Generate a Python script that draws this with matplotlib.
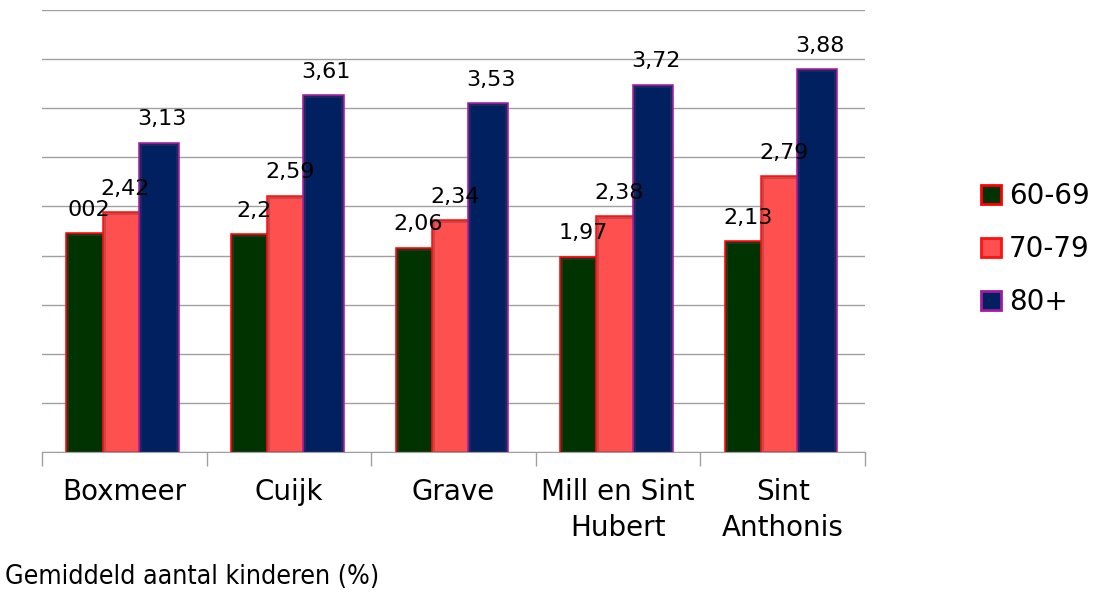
import matplotlib
matplotlib.use("Agg")
import matplotlib.pyplot as plt
import matplotlib.patheffects as pe
from matplotlib.patches import Patch
import numpy as np

categories = ["Boxmeer", "Cuijk", "Grave", "Mill en Sint\nHubert", "Sint\nAnthonis"]
series_names = ["60-69", "70-79", "80+"]
v_60_69 = [2.21, 2.20, 2.06, 1.97, 2.13]
v_70_79 = [2.42, 2.59, 2.34, 2.38, 2.79]
v_80 = [3.13, 3.61, 3.53, 3.72, 3.88]
labels_60_69 = ["002", "2,2", "2,06", "1,97", "2,13"]
labels_70_79 = ["2,42", "2,59", "2,34", "2,38", "2,79"]
labels_80 = ["3,13", "3,61", "3,53", "3,72", "3,88"]
footer = "Gemiddeld aantal kinderen (%)"

fills = ["#003300", "#ff5050", "#002060"]
inner = ["#1c3a1c", "#c84848", "#1a2a60"]
outer = ["#ff0000", "#ff1010", "#a01aa0"]

fig = plt.figure(figsize=(10.95, 6.01), dpi=100)
ax = fig.add_axes([42/1095, 1-452/601, (865-42)/1095, (452-10)/601])

x = np.arange(len(categories))
w = 0.22
data = [v_60_69, v_70_79, v_80]
labs = [labels_60_69, labels_70_79, labels_80]
for i, (vals, lab) in enumerate(zip(data, labs)):
    pos = x + (i - 1) * w - 0.01
    bars = ax.bar(pos, vals, width=w, color=fills[i], edgecolor=inner[i],
                  linewidth=1.5, zorder=3)
    for b in bars:
        b.set_path_effects([pe.Stroke(linewidth=4, foreground=outer[i]), pe.Normal()])
    for p, v, t in zip(pos, vals, lab):
        ax.annotate(t, (p, v), xytext=(2, 11), textcoords="offset points",
                    ha="center", va="bottom", fontsize=16, color="black",
                    family="DejaVu Sans", zorder=5)

ax.set_xlim(-0.5, len(categories) - 0.5)
ax.set_ylim(0, 4.5)
ax.set_yticks(np.arange(0, 4.51, 0.5))
ax.yaxis.grid(True, color="#a0a0a0", linewidth=1)
ax.set_axisbelow(True)
ax.tick_params(axis="y", left=False, labelleft=False)
for s in ["left", "right", "top"]:
    ax.spines[s].set_visible(False)
ax.spines["bottom"].set_color("#a0a0a0")
ax.set_xticks(x)
ax.set_xticklabels(categories, fontsize=20, family="DejaVu Sans", linespacing=1.35)
ax.tick_params(axis="x", length=0, pad=19)
ax.set_xticks(np.arange(-0.5, len(categories), 1.0), minor=True)
ax.tick_params(axis="x", which="minor", length=10, color="#a0a0a0", width=1)

handles = [Patch(facecolor=fills[i], edgecolor=outer[i], linewidth=2) for i in range(3)]
leg = fig.legend(handles, series_names, loc="upper left",
                 bbox_to_anchor=(970/1095, 1-171/601), frameon=False,
                 prop={"family": "DejaVu Sans", "size": 20},
                 handlelength=0.7, handleheight=0.7, handletextpad=0.3,
                 labelspacing=0.9, borderaxespad=0)

fig.text(5/1095, 1-577/601, footer, fontsize=19.2, fontstretch="condensed",
         family="DejaVu Sans", ha="left", va="center")

fig.savefig("out.png", dpi=100)
